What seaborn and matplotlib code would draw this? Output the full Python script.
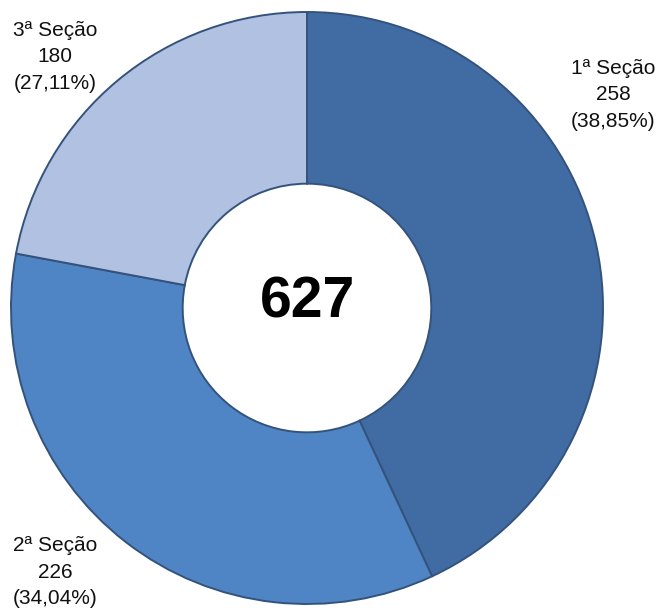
import matplotlib
matplotlib.use("Agg")
import matplotlib.pyplot as plt
import seaborn as sns

# ---- data ----
sections = ["1ª Seção", "2ª Seção", "3ª Seção"]
counts = [258, 226, 180]
pct_labels = ["38,85%", "34,04%", "27,11%"]
# slice sizes as drawn in the reference picture (share of the ring, in degrees)
slice_sizes = [155.0, 125.6, 79.4]
total_label = "627"
colors = ["#416ca3", "#4f85c5", "#b0c1e2"]

sns.set_theme(style="white")
plt.rcParams["font.family"] = ["Liberation Sans", "DejaVu Sans"]

fig = plt.figure(figsize=(6.56, 6.14), dpi=100)
fig.patch.set_facecolor("white")
ax = fig.add_axes([11 / 656, 10 / 614, 592 / 656, 592 / 614])
ax.set_xlim(-1, 1)
ax.set_ylim(-1, 1)
ax.axis("off")

wedges, _ = ax.pie(
    slice_sizes,
    colors=colors,
    startangle=90,
    counterclock=False,
    radius=1.0,
    wedgeprops=dict(width=0.58, edgecolor="#34537c", linewidth=1.4),
)
ax.set_xlim(-1, 1)
ax.set_ylim(-1, 1)

label_pos = [(1.034, 0.72), (-0.851, -0.893), (-0.851, 0.848)]
for name, c, p, (x, y) in zip(sections, counts, pct_labels, label_pos):
    ax.text(x, y, f"{name}\n{c}\n({p})", ha="center", va="center",
            fontsize=15, color="#111111", linespacing=1.5, clip_on=False)

ax.text(0.003, 0.02, total_label, ha="center", va="center",
        fontsize=41, fontweight="bold", color="black")

fig.savefig("out.png", dpi=100, facecolor="white")
